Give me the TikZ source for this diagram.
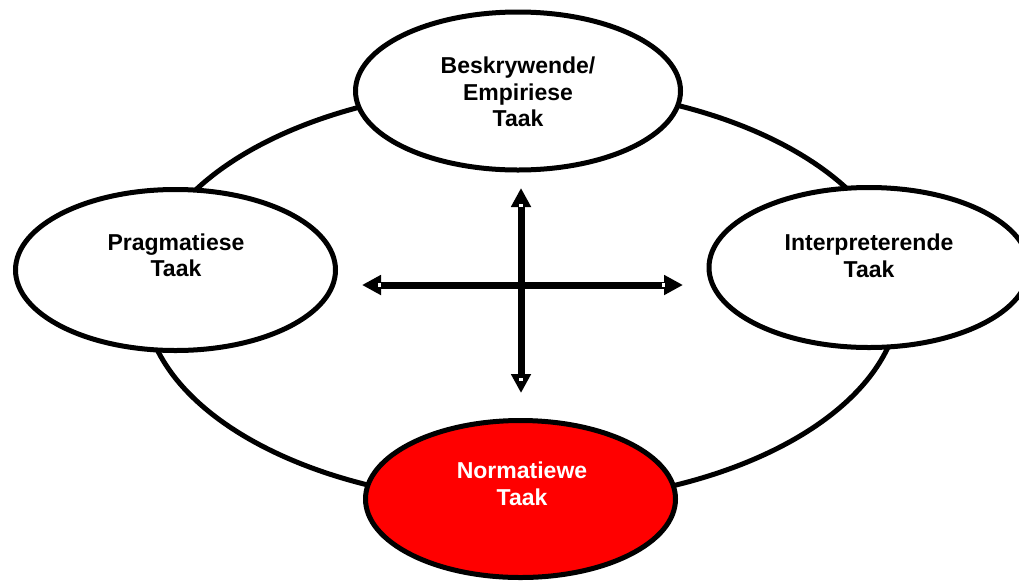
\documentclass[tikz,border=0pt]{standalone}
\usepackage{fontspec}
\setmainfont{Liberation Sans}
\usetikzlibrary{shapes.geometric,arrows.meta}
\begin{document}
\begin{tikzpicture}[x=1pt,y=-1pt,
  ring/.style={ellipse, draw=black, line width=5pt, inner sep=0pt},
  oval/.style={ellipse, draw=black, line width=5pt, fill=white, inner sep=0pt},
  lbl/.style={font=\fontsize{23}{26.5}\selectfont\bfseries, align=center, inner sep=0pt},
  dbl/.style={line width=7pt, {Triangle[length=19pt,width=19pt]}-{Triangle[length=19pt,width=19pt]}}]
\useasboundingbox (0,0) rectangle (1019,582);
\node[ring, minimum width=756pt, minimum height=416pt] (big) at (522,295) {};
\node[oval, minimum width=325pt, minimum height=158pt] (top) at (518,91) {};
\node[oval, minimum width=320pt, minimum height=161pt] (left) at (175.5,270) {};
\node[oval, minimum width=320pt, minimum height=160pt] (right) at (869,267.5) {};
\node[oval, fill={rgb,255:red,255;green,0;blue,0}, minimum width=310pt, minimum height=157pt] (bottom) at (520.5,499) {};
\node[lbl] (ttop) at (518,92) {Beskrywende/\\Empiriese\\Taak};
\node[lbl] (tleft) at (176,255.5) {Pragmatiese\\Taak};
\node[lbl] (tright) at (869,256) {Interpreterende\\Taak};
\node[lbl, text=white] (tbottom) at (522,484) {Normatiewe\\Taak};
\coordinate (w) at (362,285);
\coordinate (e) at (683,285);
\coordinate (n) at (521,188);
\coordinate (s) at (521,393);
\draw[dbl] (w) -- (e);
\draw[dbl] (n) -- (s);
\fill[white] (378,282.6) rectangle (380.5,287.4);
\fill[white] (662,282.6) rectangle (664.5,287.4);
\fill[white] (518.6,204) rectangle (523.4,206.5);
\fill[white] (518.6,378) rectangle (523.4,380.5);
\end{tikzpicture}
\end{document}
